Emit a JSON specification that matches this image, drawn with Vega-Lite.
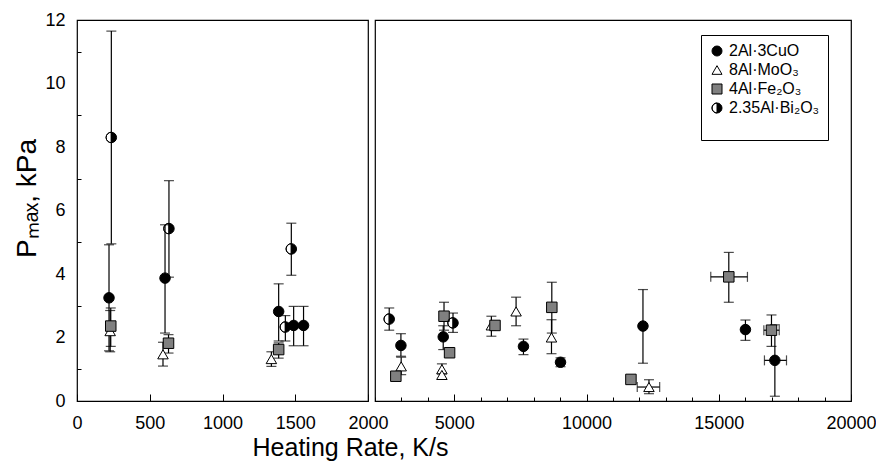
{
  "$schema": "https://vega.github.io/schema/vega-lite/v6.json",
  "background": "white",
  "padding": {"left": 12, "top": 10, "right": 5, "bottom": 5},
  "spacing": 7,
  "bounds": "flush",
  "config": {
    "font": "Liberation Sans",
    "view": {"stroke": "black", "strokeWidth": 1.2},
    "axis": {"domain": false, "grid": false, "tickColor": "black", "labelColor": "black", "titleColor": "black", "labelFontSize": 18, "titleFontWeight": "normal", "labelFont": "Liberation Sans", "titleFont": "Liberation Sans", "tickWidth": 1, "labelFlush": false, "labelOverlap": false, "labelBound": false},
    "legend": {"strokeColor": "black", "fillColor": "white", "padding": 8, "labelFont": "Liberation Sans", "labelFontSize": 16, "labelColor": "black", "symbolSize": 100, "symbolStrokeWidth": 1, "rowPadding": 3, "labelOffset": 4}
  },
  "datasets": {
    "left": [
      {"s": "2Al·3CuO", "x": 220, "y": 3.25, "ylo": 1.58, "yhi": 4.92},
      {"s": "2Al·3CuO", "x": 605, "y": 3.87, "ylo": 2.14, "yhi": 5.55},
      {"s": "2Al·3CuO", "x": 1386, "y": 2.82, "ylo": 1.89, "yhi": 3.69},
      {"s": "2Al·3CuO", "x": 1489, "y": 2.38, "ylo": 1.74, "yhi": 2.98},
      {"s": "2Al·3CuO", "x": 1557, "y": 2.38, "ylo": 1.74, "yhi": 2.98},
      {"s": "8Al·MoO₃", "x": 228, "y": 2.2, "ylo": 1.55, "yhi": 2.85},
      {"s": "8Al·MoO₃", "x": 591, "y": 1.47, "ylo": 1.1, "yhi": 1.85},
      {"s": "8Al·MoO₃", "x": 1336, "y": 1.32, "ylo": 1.09, "yhi": 1.55},
      {"s": "4Al·Fe₂O₃", "x": 232, "y": 2.36, "ylo": 1.72, "yhi": 2.93},
      {"s": "4Al·Fe₂O₃", "x": 629, "y": 1.82, "ylo": 1.51, "yhi": 2.09},
      {"s": "4Al·Fe₂O₃", "x": 1386, "y": 1.62, "ylo": 1.35, "yhi": 1.83},
      {"s": "2.35Al·Bi₂O₃", "x": 236, "y": 8.3, "ylo": 4.95, "yhi": 11.65},
      {"s": "2.35Al·Bi₂O₃", "x": 632, "y": 5.43, "ylo": 3.9, "yhi": 6.94},
      {"s": "2.35Al·Bi₂O₃", "x": 1432, "y": 2.33, "ylo": 1.89, "yhi": 2.69},
      {"s": "2.35Al·Bi₂O₃", "x": 1473, "y": 4.79, "ylo": 3.96, "yhi": 5.6}
    ],
    "right": [
      {"s": "2Al·3CuO", "x": 2980, "y": 1.75, "ylo": 1.41, "yhi": 2.12},
      {"s": "2Al·3CuO", "x": 4580, "y": 2.02, "ylo": 1.62, "yhi": 2.37},
      {"s": "2Al·3CuO", "x": 7614, "y": 1.72, "ylo": 1.46, "yhi": 1.95},
      {"s": "2Al·3CuO", "x": 9015, "y": 1.22, "ylo": 1.08, "yhi": 1.36},
      {"s": "2Al·3CuO", "x": 12133, "y": 2.36, "ylo": 1.19, "yhi": 3.51},
      {"s": "2Al·3CuO", "x": 16008, "y": 2.25, "ylo": 1.91, "yhi": 2.55},
      {"s": "2Al·3CuO", "x": 17121, "y": 1.28, "ylo": 0.15, "yhi": 2.4, "xlo": 16727, "xhi": 17561},
      {"s": "8Al·MoO₃", "x": 2990, "y": 1.09, "ylo": 0.83, "yhi": 1.38},
      {"s": "8Al·MoO₃", "x": 4530, "y": 1.0, "ylo": 0.85, "yhi": 1.17},
      {"s": "8Al·MoO₃", "x": 4530, "y": 0.82},
      {"s": "8Al·MoO₃", "x": 6401, "y": 2.38, "ylo": 2.04, "yhi": 2.67},
      {"s": "8Al·MoO₃", "x": 7335, "y": 2.82, "ylo": 2.37, "yhi": 3.27},
      {"s": "8Al·MoO₃", "x": 8674, "y": 2.0, "ylo": 1.49, "yhi": 2.56},
      {"s": "8Al·MoO₃", "x": 12360, "y": 0.44, "ylo": 0.23, "yhi": 0.67, "xlo": 11917, "xhi": 12765},
      {"s": "4Al·Fe₂O₃", "x": 2788, "y": 0.78},
      {"s": "4Al·Fe₂O₃", "x": 4610, "y": 2.67, "ylo": 2.23, "yhi": 3.11},
      {"s": "4Al·Fe₂O₃", "x": 4820, "y": 1.52},
      {"s": "4Al·Fe₂O₃", "x": 6538, "y": 2.38},
      {"s": "4Al·Fe₂O₃", "x": 8686, "y": 2.95, "ylo": 2.14, "yhi": 3.74},
      {"s": "4Al·Fe₂O₃", "x": 11678, "y": 0.68},
      {"s": "4Al·Fe₂O₃", "x": 15379, "y": 3.91, "ylo": 3.11, "yhi": 4.68, "xlo": 14697, "xhi": 16084},
      {"s": "4Al·Fe₂O₃", "x": 16993, "y": 2.23, "ylo": 1.72, "yhi": 2.71, "xlo": 16705, "xhi": 17285},
      {"s": "2.35Al·Bi₂O₃", "x": 2538, "y": 2.58, "ylo": 2.23, "yhi": 2.93},
      {"s": "2.35Al·Bi₂O₃", "x": 4950, "y": 2.46, "ylo": 2.16, "yhi": 2.77}
    ]
  },
  "hconcat": [
    {
      "width": 291,
      "height": 381,
      "data": {"name": "left"},
      "encoding": {
        "x": {"field": "x", "type": "quantitative", "scale": {"domain": [0, 2000], "nice": false, "zero": false},
          "axis": {"values": [0, 500, 1000, 1500, 2000], "format": "d", "tickSize": -7, "labelPadding": 20, "title": "Heating Rate, K/s", "titleFontSize": 25, "titleX": 273, "titleY": 54, "titleAlign": "center", "titleBaseline": "alphabetic", "titleAnchor": null}}
      },
      "layer": [
        {
          "transform": [{"filter": "isValid(datum.ylo)"}],
          "mark": {"type": "rule", "color": "black", "strokeWidth": 1.2},
          "encoding": {
            "y": {"field": "ylo", "type": "quantitative", "scale": {"domain": [0, 12], "nice": false},
              "axis": {"values": [0,1,2,3,4,5,6,7,8,9,10,11,12], "labelExpr": "datum.value % 2 === 0 ? datum.label : ''", "tickOpacity": {"condition": {"test": "datum.value % 2 === 0", "value": 0}, "value": 1}, "tickSize": -4, "labelPadding": 16, "title": "Pₘₐₓ, kPa", "titleFontSize": 28, "titleX": -42, "titleY": 178, "titleBaseline": "alphabetic", "titleAlign": "center", "titleAngle": -90}},
            "y2": {"field": "yhi"}
          }
        },
        {
          "transform": [{"filter": "isValid(datum.ylo)"}],
          "mark": {"type": "tick", "orient": "horizontal", "size": 10, "thickness": 1.2, "color": "black"},
          "encoding": {
            "y": {"field": "ylo", "type": "quantitative", "scale": {"domain": [0, 12], "nice": false},
              "axis": {"values": [0,1,2,3,4,5,6,7,8,9,10,11,12], "labelExpr": "datum.value % 2 === 0 ? datum.label : ''", "tickOpacity": {"condition": {"test": "datum.value % 2 === 0", "value": 0}, "value": 1}, "tickSize": -4, "labelPadding": 16, "title": "Pₘₐₓ, kPa", "titleFontSize": 28, "titleX": -42, "titleY": 178, "titleBaseline": "alphabetic", "titleAlign": "center", "titleAngle": -90}}
          }
        },
        {
          "transform": [{"filter": "isValid(datum.yhi)"}],
          "mark": {"type": "tick", "orient": "horizontal", "size": 10, "thickness": 1.2, "color": "black"},
          "encoding": {
            "y": {"field": "yhi", "type": "quantitative", "scale": {"domain": [0, 12], "nice": false},
              "axis": {"values": [0,1,2,3,4,5,6,7,8,9,10,11,12], "labelExpr": "datum.value % 2 === 0 ? datum.label : ''", "tickOpacity": {"condition": {"test": "datum.value % 2 === 0", "value": 0}, "value": 1}, "tickSize": -4, "labelPadding": 16, "title": "Pₘₐₓ, kPa", "titleFontSize": 28, "titleX": -42, "titleY": 178, "titleBaseline": "alphabetic", "titleAlign": "center", "titleAngle": -90}}
          }
        },
        {
          "mark": {"type": "point", "filled": true, "strokeWidth": 1, "opacity": 1, "size": 110},
          "encoding": {
            "y": {"field": "y", "type": "quantitative", "scale": {"domain": [0, 12], "nice": false},
              "axis": {"values": [0,1,2,3,4,5,6,7,8,9,10,11,12], "labelExpr": "datum.value % 2 === 0 ? datum.label : ''", "tickOpacity": {"condition": {"test": "datum.value % 2 === 0", "value": 0}, "value": 1}, "tickSize": -4, "labelPadding": 16, "title": "Pₘₐₓ, kPa", "titleFontSize": 28, "titleX": -42, "titleY": 178, "titleBaseline": "alphabetic", "titleAlign": "center", "titleAngle": -90}},
            "shape": {"field": "s", "type": "nominal", "scale": {"domain": ["2Al·3CuO", "8Al·MoO₃", "4Al·Fe₂O₃", "2.35Al·Bi₂O₃"], "range": ["circle", "triangle-up", "square", "M0,-1 A1,1,0,0,1,0,1 Z M0,-1 A1,1,0,0,0,0,1 A1,1,0,0,1,0,-1"]},
              "legend": {"orient": "none", "legendX": 624, "legendY": 15, "title": " ", "titleOrient": "bottom", "titleFontSize": 14, "titlePadding": 2}},
            "fill": {"field": "s", "type": "nominal", "scale": {"domain": ["2Al·3CuO", "8Al·MoO₃", "4Al·Fe₂O₃", "2.35Al·Bi₂O₃"], "range": ["black", "white", "#808080", "black"]},
              "legend": {"orient": "none", "legendX": 624, "legendY": 15, "title": " ", "titleOrient": "bottom", "titleFontSize": 14, "titlePadding": 2}},
            "stroke": {"field": "s", "type": "nominal", "scale": {"domain": ["2Al·3CuO", "8Al·MoO₃", "4Al·Fe₂O₃", "2.35Al·Bi₂O₃"], "range": ["black", "black", "black", "black"]},
              "legend": {"orient": "none", "legendX": 624, "legendY": 15, "title": " ", "titleOrient": "bottom", "titleFontSize": 14, "titlePadding": 2}}
          }
        }
      ]
    },
    {
      "width": 476,
      "height": 381,
      "data": {"name": "right"},
      "encoding": {
        "x": {"field": "x", "type": "quantitative", "scale": {"domain": [2000, 20000], "nice": false, "zero": false},
          "axis": {"values": [2000,3000,4000,5000,6000,7000,8000,9000,10000,11000,12000,13000,14000,15000,16000,17000,18000,19000,20000], "format": "d", "labelExpr": "datum.value % 5000 === 0 ? datum.label : ''", "tickSize": {"condition": {"test": "datum.value % 5000 === 0", "value": -7}, "value": -4}, "labelPadding": 20, "title": null}}
      },
      "layer": [
        {
          "transform": [{"filter": "isValid(datum.ylo)"}],
          "mark": {"type": "rule", "color": "black", "strokeWidth": 1.2},
          "encoding": {
            "y": {"field": "ylo", "type": "quantitative", "scale": {"domain": [0, 12], "nice": false}, "axis": null},
            "y2": {"field": "yhi"}
          }
        },
        {
          "transform": [{"filter": "isValid(datum.ylo)"}],
          "mark": {"type": "tick", "orient": "horizontal", "size": 10, "thickness": 1.2, "color": "black"},
          "encoding": {
            "y": {"field": "ylo", "type": "quantitative", "scale": {"domain": [0, 12], "nice": false}, "axis": null}
          }
        },
        {
          "transform": [{"filter": "isValid(datum.yhi)"}],
          "mark": {"type": "tick", "orient": "horizontal", "size": 10, "thickness": 1.2, "color": "black"},
          "encoding": {
            "y": {"field": "yhi", "type": "quantitative", "scale": {"domain": [0, 12], "nice": false}, "axis": null}
          }
        },
        {
          "transform": [{"filter": "isValid(datum.xlo)"}],
          "mark": {"type": "rule", "color": "black", "strokeWidth": 1.2},
          "encoding": {
            "x": {"field": "xlo", "type": "quantitative", "scale": {"domain": [2000, 20000], "nice": false, "zero": false}},
            "x2": {"field": "xhi"},
            "y": {"field": "y", "type": "quantitative", "scale": {"domain": [0, 12], "nice": false}, "axis": null}
          }
        },
        {
          "transform": [{"filter": "isValid(datum.xlo)"}],
          "mark": {"type": "tick", "orient": "vertical", "size": 10, "thickness": 1.2, "color": "black"},
          "encoding": {
            "x": {"field": "xlo", "type": "quantitative", "scale": {"domain": [2000, 20000], "nice": false, "zero": false}},
            "y": {"field": "y", "type": "quantitative", "scale": {"domain": [0, 12], "nice": false}, "axis": null}
          }
        },
        {
          "transform": [{"filter": "isValid(datum.xhi)"}],
          "mark": {"type": "tick", "orient": "vertical", "size": 10, "thickness": 1.2, "color": "black"},
          "encoding": {
            "x": {"field": "xhi", "type": "quantitative", "scale": {"domain": [2000, 20000], "nice": false, "zero": false}},
            "y": {"field": "y", "type": "quantitative", "scale": {"domain": [0, 12], "nice": false}, "axis": null}
          }
        },
        {
          "mark": {"type": "point", "filled": true, "strokeWidth": 1, "opacity": 1, "size": 110},
          "encoding": {
            "y": {"field": "y", "type": "quantitative", "scale": {"domain": [0, 12], "nice": false}, "axis": null},
            "shape": {"field": "s", "type": "nominal", "scale": {"domain": ["2Al·3CuO", "8Al·MoO₃", "4Al·Fe₂O₃", "2.35Al·Bi₂O₃"], "range": ["circle", "triangle-up", "square", "M0,-1 A1,1,0,0,1,0,1 Z M0,-1 A1,1,0,0,0,0,1 A1,1,0,0,1,0,-1"]},
              "legend": {"orient": "none", "legendX": 624, "legendY": 15, "title": " ", "titleOrient": "bottom", "titleFontSize": 14, "titlePadding": 2}},
            "fill": {"field": "s", "type": "nominal", "scale": {"domain": ["2Al·3CuO", "8Al·MoO₃", "4Al·Fe₂O₃", "2.35Al·Bi₂O₃"], "range": ["black", "white", "#808080", "black"]},
              "legend": {"orient": "none", "legendX": 624, "legendY": 15, "title": " ", "titleOrient": "bottom", "titleFontSize": 14, "titlePadding": 2}},
            "stroke": {"field": "s", "type": "nominal", "scale": {"domain": ["2Al·3CuO", "8Al·MoO₃", "4Al·Fe₂O₃", "2.35Al·Bi₂O₃"], "range": ["black", "black", "black", "black"]},
              "legend": {"orient": "none", "legendX": 624, "legendY": 15, "title": " ", "titleOrient": "bottom", "titleFontSize": 14, "titlePadding": 2}}
          }
        }
      ]
    }
  ]
}
